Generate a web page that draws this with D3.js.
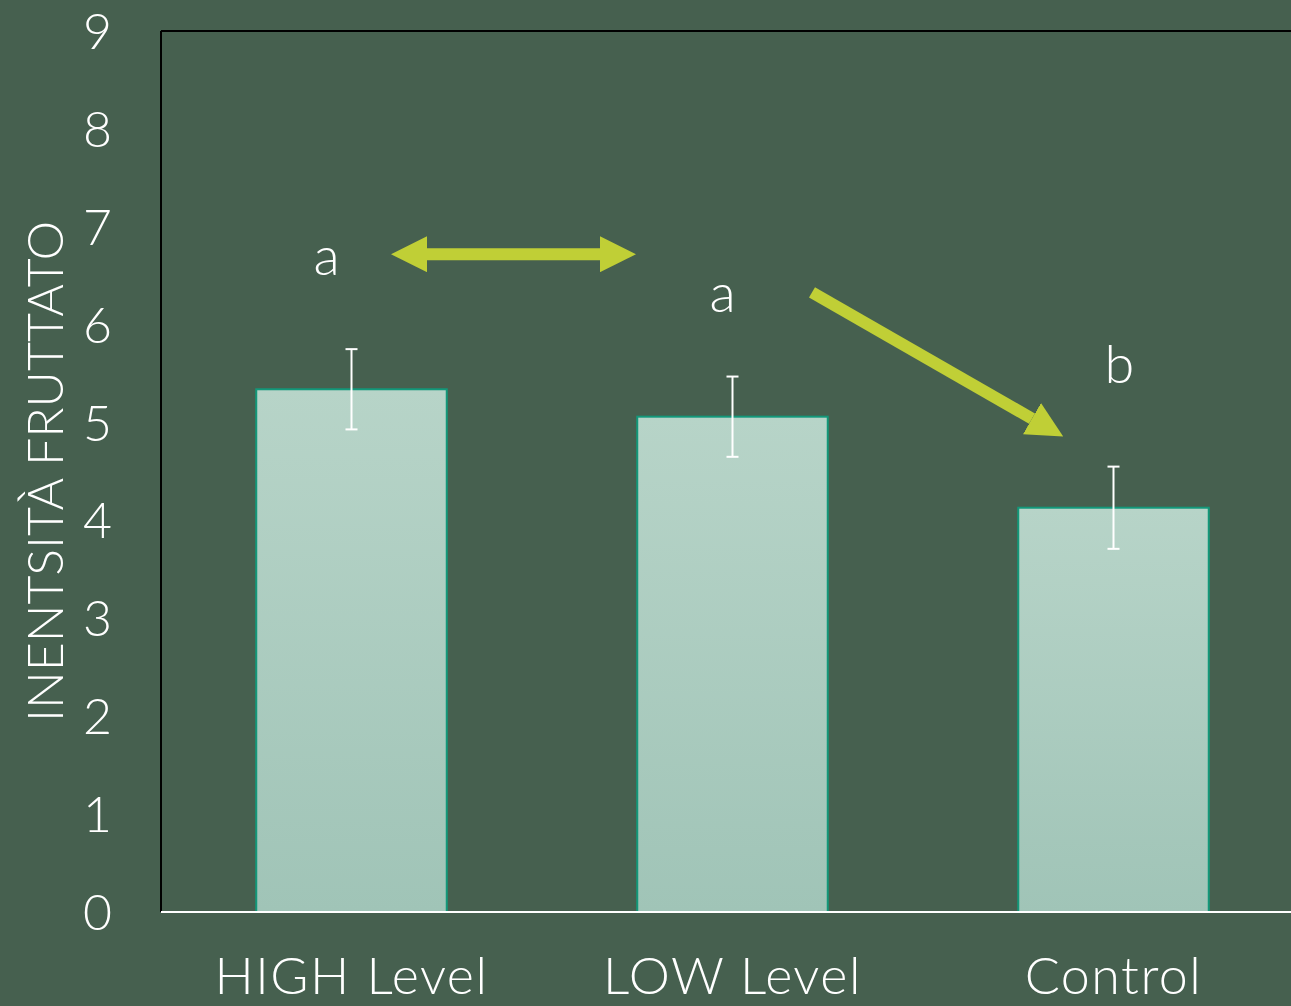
<!DOCTYPE html>
<html>
<head>
<meta charset="utf-8">
<script src="https://cdn.jsdelivr.net/npm/d3@7"></script>
<style>
  body { margin: 0; background: #46604f; }
  svg { display: block; }
  text { font-family: "Lato", "Open Sans", sans-serif; fill: #ffffff; }
</style>
</head>
<body>
<div id="chart"></div>
<script>
// data
const categories = ["HIGH Level", "LOW Level", "Control"];
const values = [5.34, 5.06, 4.13];
const errors = [0.41, 0.41, 0.42];
const letters = ["a", "a", "b"];
const letterValues = [6.71, 6.33, 5.6];
const yTicks = [0, 1, 2, 3, 4, 5, 6, 7, 8, 9];

const W = 1291, H = 1006;
const margin = {top: 31, left: 161, bottom: 94};

const svg = d3.select("#chart")
  .append("svg")
  .attr("width", W)
  .attr("height", H);

// gradient fill for bars
const defs = svg.append("defs");
const grad = defs.append("linearGradient")
  .attr("id", "barGrad")
  .attr("x1", 0).attr("y1", 0).attr("x2", 0).attr("y2", 1);
grad.append("stop").attr("offset", "0%").attr("stop-color", "#b7d4c8");
grad.append("stop").attr("offset", "100%").attr("stop-color", "#a0c4b7");

defs.append("marker")
  .attr("id", "head")
  .attr("viewBox", "0 0 10 10")
  .attr("refX", 0).attr("refY", 5)
  .attr("markerWidth", 3).attr("markerHeight", 3)
  .attr("markerUnits", "strokeWidth")
  .attr("orient", "auto-start-reverse")
  .append("path")
  .attr("d", "M0,0 L10,5 L0,10 Z")
  .attr("fill", "#c0cf36");

const x = d3.scaleBand()
  .domain(categories)
  .range([margin.left, margin.left + 3 * 381])
  .paddingInner(0.5)
  .paddingOuter(0.25);

const y = d3.scaleLinear()
  .domain([0, 9])
  .range([H - margin.bottom, margin.top]);

// frame: top + left in black
svg.append("line")
  .attr("x1", margin.left).attr("x2", W)
  .attr("y1", y(9)).attr("y2", y(9))
  .attr("stroke", "#000").attr("stroke-width", 2);
svg.append("line")
  .attr("x1", margin.left).attr("x2", margin.left)
  .attr("y1", y(9)).attr("y2", y(0))
  .attr("stroke", "#000").attr("stroke-width", 2);

// y tick labels
svg.append("g")
  .selectAll("text")
  .data(yTicks)
  .join("text")
  .attr("x", 112)
  .attr("y", d => y(d))
  .attr("dy", "0.36em")
  .attr("text-anchor", "end")
  .attr("font-size", 50)
  .attr("font-weight", 300)
  .text(d => d);

// y title
svg.append("text")
  .attr("transform", `translate(63, ${y(4.5)}) rotate(-90)`)
  .attr("text-anchor", "middle")
  .attr("font-size", 50)
  .attr("font-weight", 300)
  .text("INENTSITÀ FRUTTATO");

// bars
svg.append("g")
  .selectAll("rect")
  .data(values)
  .join("rect")
  .attr("x", (d, i) => x(categories[i]))
  .attr("y", d => y(d))
  .attr("width", x.bandwidth())
  .attr("height", d => y(0) - y(d))
  .attr("fill", "url(#barGrad)")
  .attr("stroke", "#13987a")
  .attr("stroke-width", 2);

// error bars
const eb = svg.append("g").attr("stroke", "#ffffff").attr("stroke-width", 2);
values.forEach((v, i) => {
  const cx = x(categories[i]) + x.bandwidth() / 2;
  eb.append("line").attr("x1", cx).attr("x2", cx)
    .attr("y1", y(v + errors[i])).attr("y2", y(v - errors[i]));
  eb.append("line").attr("x1", cx - 6).attr("x2", cx + 6)
    .attr("y1", y(v + errors[i])).attr("y2", y(v + errors[i]));
  eb.append("line").attr("x1", cx - 6).attr("x2", cx + 6)
    .attr("y1", y(v - errors[i])).attr("y2", y(v - errors[i]));
});

// x axis line (white)
svg.append("line")
  .attr("x1", margin.left).attr("x2", W)
  .attr("y1", y(0)).attr("y2", y(0))
  .attr("stroke", "#ffffff").attr("stroke-width", 2);

// category labels
svg.append("g")
  .selectAll("text")
  .data(categories)
  .join("text")
  .attr("x", d => x(d) + x.bandwidth() / 2)
  .attr("y", 994)
  .attr("text-anchor", "middle")
  .attr("font-size", 52)
  .attr("font-weight", 300)
  .attr("letter-spacing", 1.5)
  .text(d => d);

// significance letters
const letterOffset = [-25, -10, 6];
svg.append("g")
  .selectAll("text")
  .data(letters)
  .join("text")
  .attr("x", (d, i) => x(categories[i]) + x.bandwidth() / 2 + letterOffset[i])
  .attr("y", (d, i) => y(letterValues[i]))
  .attr("dy", "0.36em")
  .attr("text-anchor", "middle")
  .attr("font-size", 54)
  .attr("font-weight", 300)
  .text(d => d);

// arrows
const arrowY = y(6.72);
svg.append("line")
  .attr("x1", 427).attr("x2", 600)
  .attr("y1", arrowY).attr("y2", arrowY)
  .attr("stroke", "#c0cf36").attr("stroke-width", 12)
  .attr("marker-start", "url(#head)")
  .attr("marker-end", "url(#head)");

svg.append("line")
  .attr("x1", 812).attr("y1", y(6.33))
  .attr("x2", 1032).attr("y2", y(5.04))
  .attr("stroke", "#c0cf36").attr("stroke-width", 12)
  .attr("marker-end", "url(#head)");
</script>
</body>
</html>
